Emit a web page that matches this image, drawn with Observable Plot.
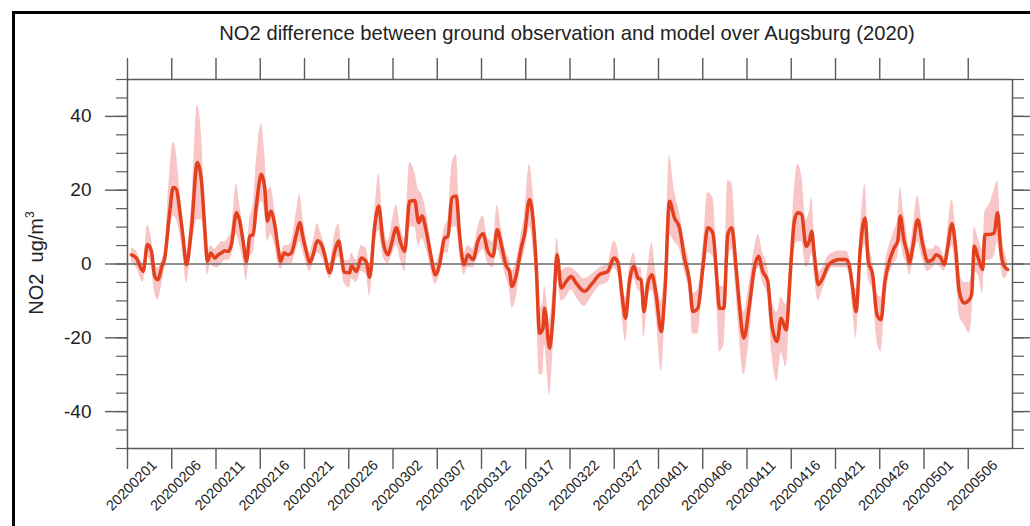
<!DOCTYPE html>
<html>
<head>
<meta charset="utf-8">
<script src="https://cdn.jsdelivr.net/npm/d3@7"></script>
<script src="https://cdn.jsdelivr.net/npm/@observablehq/plot@0.6"></script>
<style>
  html, body { margin: 0; padding: 0; background: #fff; }
</style>
</head>
<body>
<div id="chart"></div>
<script>
const titleText = "NO2 difference between ground observation and model over Augsburg (2020)";
const yLabelMain = "NO2  ug/m";
const yLabelSup = "3";
const xDomainLabels = ["20200201", "20200511"];
const xTickLabels = ["20200201","20200206","20200211","20200216","20200221","20200226",
  "20200302","20200307","20200312","20200317","20200322","20200327","20200401",
  "20200406","20200411","20200416","20200421","20200426","20200501","20200506"];
const yMajorTicks = [-40, -20, 0, 20, 40];
const yMinorTicks = [-50,-45,-40,-35,-30,-25,-20,-15,-10,-5,0,5,10,15,20,25,30,35,40,45,50];

// days since 2020-02-01 00:00 UTC
const dayOffset = [
  0.45,1.0,1.77,2.26,2.71,3.08,3.46,3.84,4.21,4.78,5.16,5.53,5.91,6.29,6.66,7.23,7.9,8.36,8.73,9.03,
  9.41,9.86,10.24,10.61,10.99,11.37,11.74,12.31,12.68,13.06,13.44,13.81,14.19,14.57,15.13,15.5,15.81,16.18,16.63,17.01,
  17.31,17.69,18.15,18.52,19.08,19.46,19.84,20.21,20.59,20.97,21.45,21.91,22.28,22.84,23.41,23.86,24.16,24.47,25.1,25.3,
  25.86,26.42,26.99,27.36,27.93,28.38,28.87,29.44,29.81,30.38,30.86,31.32,31.88,32.45,32.9,33.28,33.76,34.33,34.78,35.27,
  35.83,36.21,36.66,37.15,37.52,38.02,38.47,39.04,39.6,40.17,40.73,41.3,41.78,42.23,42.8,43.17,43.44,43.93,44.49,44.86,
  45.43,45.81,46.18,46.56,46.94,47.12,47.69,48.07,48.55,49.01,49.57,50.14,50.7,51.64,52.39,53.33,54.28,54.96,55.41,55.97,
  56.27,56.72,57.22,57.67,58.04,58.35,58.8,59.25,59.73,60.3,60.75,61.24,61.8,62.37,62.93,63.5,63.88,64.44,65.01,65.57,
  66.14,66.62,66.88,67.38,67.83,68.28,68.77,69.14,69.64,70.27,70.83,71.29,71.78,72.35,72.8,73.4,73.85,74.41,74.98,75.35,
  75.73,76.18,76.67,77.04,77.31,77.61,78.06,78.56,79.12,79.68,80.43,81.18,81.56,81.94,82.32,82.81,83.34,83.71,84.2,84.69,
  85.14,85.59,86.08,86.64,87.03,87.32,87.7,88.15,88.34,88.72,89.29,89.85,90.42,90.98,91.36,91.92,92.29,92.67,93.16,93.61,
  93.98,94.55,95.11,95.38,95.68,96.13,96.63,96.88,97.37,97.93,98.31,98.69,99.06,99.45
];
const meanDiff = [
  2.5,1.6,-2,5.3,3.4,-3.4,-4.3,-1,1.6,14.3,20.7,20.2,14.3,7,-0.2,9.8,27.5,22.5,9.8,0.7,
  3,1.6,2.5,3,3.6,3.4,5.3,13.9,11.6,6.2,0.7,7.5,8,16.1,24.3,20.7,11.6,14.3,10.7,4.4,
  0.7,3,2.5,3,8,11.2,7,3.4,0.3,2.5,6.3,5.3,2.5,-2.4,3.4,6.2,2.5,-2.2,-2.4,-0.5,
  -2,1.6,0.5,-3.6,10.2,15.7,6.2,2.5,5.3,9.8,5.7,3.4,17,17.2,11.2,13,8.9,1.6,-2.9,0,
  7,7.5,18,18.4,8,-0.2,2.5,1.2,6.2,8.2,3.4,2.1,9.3,5.3,-0.6,-2,-6.1,-2.9,4.4,8,
  17.5,12.5,-0.2,-18.8,-17.4,-12,-22.8,-14.7,2.5,-6.5,-4.7,-3.4,-5.2,-7.4,-5.6,-2.9,-2,1.6,0.5,-10.2,
  -14.7,-4.7,-0.6,-3.8,-4.3,-12.9,-5.2,-2.9,-8.3,-18.3,-6.5,17,12.5,9.8,1.6,-4.7,-12.9,-12,-1.1,9.8,
  8.4,-4.7,-12,-12,8,9.8,-1.1,-11.1,-20.1,-11.1,-1.1,2.1,-2,-4.7,-16.5,-21,-14.7,-17.9,0.7,11.6,
  13.9,13.4,4.8,6.2,8.9,2.5,-5.6,-3.8,-0.6,0.7,1.2,1.2,-0.4,-6.5,-12.9,4.4,12.5,0.7,-2.9,-13.8,
  -15.1,-4.7,0.7,4.4,6.2,13,7,2.5,0.3,4.4,12,5.3,0.7,1.2,2.5,1.6,-0.2,4.4,10.9,3.4,
  -7.4,-10.6,-9.7,-8.3,4.8,1.6,-1.5,8,8,8.4,13.9,3.4,-0.6,-1.5
];
const lowerBound = [
  0.5,-1,-5,2,-1,-8,-9.7,-6,-1,9,13,12,8,2,-5.2,4,12,12,4,-3,
  0,-1,-1,0,1,1,2,8,5,1,-4.7,2,3,10,17,14,6,8,5,0,
  -1.5,0,0,0,4,6,3,0,-2,0,3,2,0,-4,0,2,-1,-5,-6.5,-4,
  -5,-2,-3,-8.8,5,9,2,0,2,5,1,-2,10,10,5,7,4,-2,-5.5,-3,
  3,3,10,10,3,-3,-1,-1,2,4,0,-1,4,1,-4,-7,-12,-9,0,3,
  10,5,-8,-30,-30,-22,-35.5,-24,-4,-10,-9,-7,-9,-11.5,-9,-6,-5,-1,-3,-16,
  -21,-10,-4,-7,-8,-20,-9,-7,-14,-29.2,-14,8,6,4,-2,-8.3,-19,-19,-6,3,
  2,-12,-23.8,-22,0,4,-8,-20,-30.1,-20,-6,-1,-5,-9,-24,-31.9,-24,-28,-8,4,
  6,6,-1,0,3,-3,-10,-7,-3,-1,-1,-1,-3,-12,-20.1,-2,5,-4,-7,-21,
  -23.8,-11,-3,0,2,6,2,-1,-3,0,6,1,-2,-1,0,-1,-2,1,5,-3,
  -14,-16.5,-18.8,-15,-2,-3,-8,1,1,2,6,-1,-4,-3
];
const upperBound = [
  4.5,3.5,0,10.5,7,0,-1,1,4,25,33,30,20,12,3,16,43,35,15,3,
  5,4,5,6,6,7,9,21.6,16,10,3,12,16,28,38,30,20,20.7,15,8,
  3,5,5,6,14,19,12,7,3,6,11,8,5,0,8,11,6,1,1,3,
  1,5,4,0,14,24.3,12,6,10,16,10,7,27.5,25,20,19,14,5,0,3,
  10,12,27,29.7,14,3,5,4,10,13,7,6,16,10,3,1,-2,1,8,13,
  27,20,6,-12,-10,-6,-15,-8,7,-2,-1,-1,-2,-4,-3,-1,0,6.2,4,-6,
  -9,-1,3,-1,-1,-8,-1,5.7,-3,-10,0,29.3,20,14,6,0,-8,-7,4,19.3,
  18,2,-6,-6,22.5,22,6,-4,-13,-5,4,8,3,-1,-10,-13,-9,-11,6,20,
  27,24,12,14,18,8,-2,-1,2,3,3.5,3.5,2,-3,-7,10,21.6,6,1,-8,
  -9,0,5,9,12,20.7,14,7,4,9,18.4,10,4,4,5,4,2,9,17.5,9,
  -2,-5,-5,-3,10,7,4,14,16,20,22.5,10,4,1
];

const parse = d3.utcParse("%Y%m%d");
const t0 = parse(xDomainLabels[0]).getTime();
const rows = dayOffset.map((d, i) => ({
  date: new Date(t0 + d * 864e5),
  mean: meanDiff[i],
  lo: lowerBound[i],
  hi: upperBound[i]
}));
const tickDates = xTickLabels.map(parse);
const axisColor = "#5a5a5a";
const font = "'Liberation Sans', Arial, Helvetica, sans-serif";

const chart = Plot.plot({
  width: 1030,
  height: 526,
  marginLeft: 127,
  marginRight: 18,
  marginTop: 79,
  marginBottom: 78,
  style: {fontFamily: font, background: "#fff", color: "#222", overflow: "visible"},
  x: {type: "utc", domain: xDomainLabels.map(parse), label: null},
  y: {domain: [-50, 50], label: null},
  marks: [
    Plot.areaY(rows, {x: "date", y1: "lo", y2: "hi", fill: "#f8c6c6", curve: "monotone-x"}),
    Plot.ruleY([0], {stroke: "#6a6a6a", strokeWidth: 1.4}),
    Plot.lineY(rows, {x: "date", y: "mean", stroke: "#e4401e", strokeWidth: 3.5, strokeLinejoin: "round", strokeLinecap: "round", curve: "monotone-x"}),
    Plot.frame({stroke: axisColor, strokeWidth: 1.5}),
    Plot.axisX(tickDates, {anchor: "bottom", tickSize: 21, text: null, stroke: axisColor, strokeWidth: 1.4, label: null}),
    Plot.axisX(tickDates, {anchor: "top", tickSize: 22, text: null, stroke: axisColor, strokeWidth: 1.4, label: null}),
    Plot.text(tickDates, {
      x: d => d,
      text: (d, i) => xTickLabels[i],
      frameAnchor: "bottom",
      rotate: -45,
      dx: 4,
      dy: 37,
      textAnchor: "middle",
      lineAnchor: "middle",
      fontSize: 14.5,
      fill: "#222"
    }),
    Plot.axisY(yMajorTicks, {anchor: "left", tickSize: 22, tickPadding: 14, fontSize: 19, stroke: axisColor, strokeWidth: 1.4, fill: "#222", label: null, tickFormat: d => String(d)}),
    Plot.axisY(yMinorTicks, {anchor: "left", tickSize: 11, text: null, stroke: axisColor, strokeWidth: 1.2, label: null}),
    Plot.axisY(yMajorTicks, {anchor: "right", tickSize: 22, text: null, stroke: axisColor, strokeWidth: 1.4, label: null}),
    Plot.axisY(yMinorTicks, {anchor: "right", tickSize: 11, text: null, stroke: axisColor, strokeWidth: 1.2, label: null})
  ]
});

const svg = d3.select(chart);
svg.append("path")
  .attr("d", "M13.5,526 V12.5 H1030")
  .attr("fill", "none")
  .attr("stroke", "#000")
  .attr("stroke-width", 3);

svg.append("text")
  .attr("x", 567)
  .attr("y", 40)
  .attr("text-anchor", "middle")
  .attr("font-family", font)
  .attr("font-size", 20.2)
  .attr("fill", "#222")
  .text(titleText);

const yl = svg.append("text")
  .attr("transform", "translate(43,263) rotate(-90)")
  .attr("text-anchor", "middle")
  .attr("font-family", font)
  .attr("font-size", 20)
  .attr("fill", "#222")
  .style("white-space", "pre");
yl.append("tspan").text(yLabelMain);
yl.append("tspan").attr("font-size", 12).attr("dy", -9).text(yLabelSup);

document.getElementById("chart").appendChild(chart);
</script>
</body>
</html>
